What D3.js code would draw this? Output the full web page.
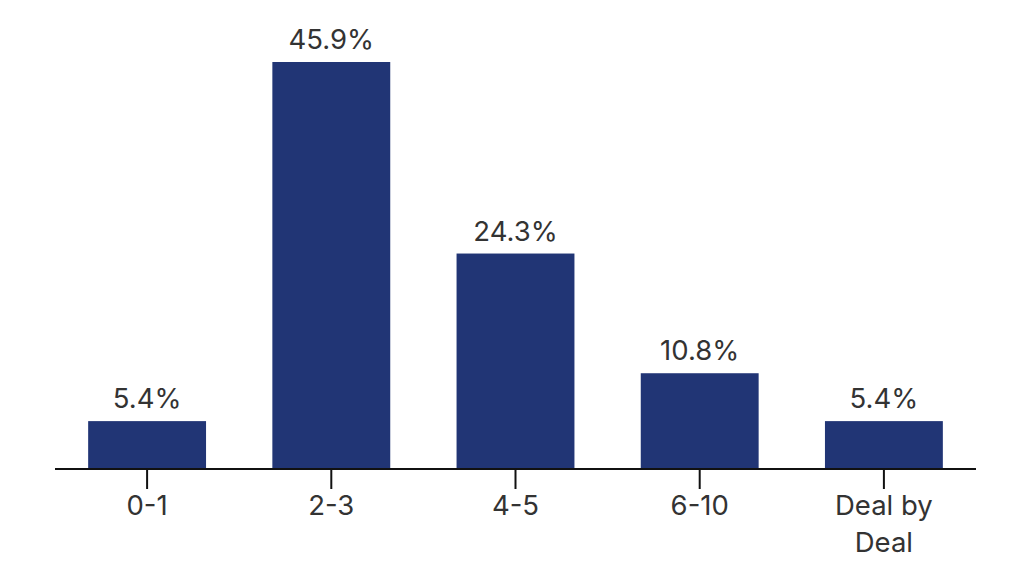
<!DOCTYPE html>
<html><head><meta charset="utf-8">
<script src="https://cdn.jsdelivr.net/npm/d3@7"></script>
<style>html,body{margin:0;padding:0;background:#fff;}svg{display:block;}</style>
</head><body>
<svg id="chart" width="1024" height="571"></svg>
<script>
const categories = ["0-1", "2-3", "4-5", "6-10", "Deal by Deal"];
const values = [5.4, 45.9, 24.3, 10.8, 5.4];
const labels = ["5.4%", "45.9%", "24.3%", "10.8%", "5.4%"];

const svg = d3.select("#chart");
const font = "Inter, 'Noto Sans', sans-serif";
const x = d3.scaleBand().domain(categories).range([55, 976]).paddingInner(0.36).paddingOuter(0.18);
const y = d3.scaleLinear().domain([0, 45.9]).range([469, 62]);

svg.selectAll("rect.bar").data(values).join("rect")
  .attr("class", "bar")
  .attr("x", (d, i) => x(categories[i]))
  .attr("width", x.bandwidth())
  .attr("y", d => y(d))
  .attr("height", d => y(0) - y(d))
  .attr("fill", "#213575");

svg.selectAll("text.val").data(values).join("text")
  .attr("class", "val")
  .attr("x", (d, i) => x(categories[i]) + x.bandwidth() / 2)
  .attr("y", d => y(d) - 13)
  .attr("text-anchor", "middle")
  .attr("font-family", font)
  .attr("font-size", 27.5)
  .attr("fill", "#333")
  .text((d, i) => labels[i]);

const axis = svg.append("g").attr("transform", `translate(0,${y(0)})`)
  .call(d3.axisBottom(x).tickSize(20).tickSizeOuter(0).tickPadding(6));
axis.select(".domain").attr("stroke", "#111").attr("stroke-width", 2).attr("d", "M55,0H976");
axis.selectAll(".tick line").attr("stroke", "#111").attr("stroke-width", 2);
axis.selectAll(".tick text").remove();

axis.selectAll(".tick").each(function(d) {
  const g = d3.select(this);
  const words = d === "Deal by Deal" ? ["Deal by", "Deal"] : [d];
  const t = g.append("text")
    .attr("text-anchor", "middle")
    .attr("font-family", font)
    .attr("font-size", 27.5)
    .attr("fill", "#333");
  words.forEach((w, i) => {
    t.append("tspan").attr("x", 0).attr("y", 46 + i * 37).text(w);
  });
});
</script>
</body></html>
